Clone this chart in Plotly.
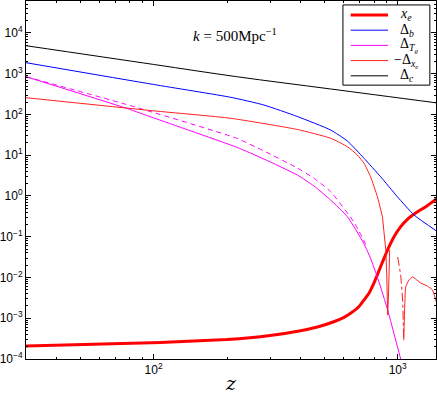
import plotly.graph_objects as go

# x_e (ionisation fraction)
z_xe = [30, 107, 200, 300, 400, 469, 547, 603, 641, 693, 728, 763, 787, 820, 851,
        885, 922, 966, 1029, 1096, 1181, 1321, 1455]
xe = [2.08e-4, 2.55e-4, 3.0e-4, 3.77e-4, 4.95e-4, 6.1e-4, 8.2e-4, 1.05e-3, 1.32e-3,
      1.92e-3, 2.8e-3, 4.09e-3, 5.94e-3, 0.0105, 0.0184, 0.0325, 0.057, 0.100,
      0.177, 0.268, 0.377, 0.58, 0.88]

# baryons
z_b = [30, 100, 207, 283, 388, 531, 622, 728, 851, 997, 1167, 1455]
delta_b = [1866, 545, 264, 171, 89.3, 41.7, 22.4, 8.4, 2.98, 0.96, 0.342, 0.133]

# gas temperature, solid and dashed
z_tg = [30, 77.4, 100, 219, 283, 388, 454, 531, 622, 725, 774, 833, 910, 981, 1029]
delta_tg = [847, 142, 82.6, 15.7, 8.1, 3.27, 1.76, 0.798, 0.31, 0.0703, 0.0296,
            0.0087, 0.00159, 0.000292, 0.0001]
z_tg_dash = [30, 77.4, 219, 283, 388, 454, 531, 660, 740]
delta_tg_dash = [847, 176, 26.1, 12.7, 4.86, 2.72, 1.28, 0.234, 0.065]

# -Delta_xe, split where the sign flips
z_dxe_a = [30, 100, 207, 388, 531, 622, 684, 728, 774, 826, 866]
dxe_a = [258, 123, 80.7, 42.9, 26.1, 16.2, 10.1, 6.34, 2.98, 0.96, 0.31]
z_dxe_cusp = [866, 885, 894, 902, 910, 918, 927]
dxe_cusp = [0.31, 0.083, 0.047, 0.0115, 0.0012, 0.0049, 0.047]
z_dxe_b = [1000, 1029, 1048, 1059]
dxe_b = [0.0318, 0.0115, 0.0028, 0.00029]
z_dxe_c = [1059, 1069, 1079, 1112, 1151, 1242, 1323, 1388, 1445]
dxe_c = [0.00029, 0.00211, 0.00585, 0.0087, 0.0103, 0.00733, 0.00618, 0.00493, 0.00237]

# cold dark matter
z_c = [30, 100, 219, 531, 1460]
delta_c = [4880, 1690, 847, 423, 191]

y_ticks = [1e-4, 1e-3, 1e-2, 1e-1, 1, 10, 100, 1e3, 1e4]
y_text = ["10<sup>−4</sup>", "10<sup>−3</sup>", "10<sup>−2</sup>", "10<sup>−1</sup>",
          "10<sup>0</sup>", "10<sup>1</sup>", "10<sup>2</sup>", "10<sup>3</sup>",
          "10<sup>4</sup>"]
x_ticks = [100, 1000]
x_text = ["10<sup>2</sup>", "10<sup>3</sup>"]

legend_labels = ["<i>x<sub>e</sub></i>", "Δ<sub><i>b</i></sub>",
                 "Δ<sub><i>T<sub>g</sub></i></sub>", "−Δ<sub><i>x<sub>e</sub></i></sub>",
                 "Δ<sub><i>c</i></sub>"]
legend_colors = ["#ff0000", "#0000ff", "#ff00ff", "#ff2020", "#000000"]
legend_widths = [3, 1, 1, 1, 1]

fig = go.Figure()
fig.add_trace(go.Scatter(x=z_xe, y=xe, mode="lines", line_shape="spline",
                         line=dict(color=legend_colors[0], width=3, smoothing=0.4)))
fig.add_trace(go.Scatter(x=z_b, y=delta_b, mode="lines", line_shape="spline",
                         line=dict(color=legend_colors[1], width=1, smoothing=0.5)))
fig.add_trace(go.Scatter(x=z_tg, y=delta_tg, mode="lines", line_shape="spline",
                         line=dict(color=legend_colors[2], width=1, smoothing=0.5)))
fig.add_trace(go.Scatter(x=z_tg_dash, y=delta_tg_dash, mode="lines", line_shape="spline",
                         line=dict(color="#ff00ff", width=1, dash="5px,4px", smoothing=0.5)))
fig.add_trace(go.Scatter(x=z_dxe_a, y=dxe_a, mode="lines", line_shape="spline",
                         line=dict(color=legend_colors[3], width=1, smoothing=0.5)))
fig.add_trace(go.Scatter(x=z_dxe_cusp, y=dxe_cusp, mode="lines",
                         line=dict(color=legend_colors[3], width=1)))
fig.add_trace(go.Scatter(x=z_dxe_b, y=dxe_b, mode="lines",
                         line=dict(color=legend_colors[3], width=1, dash="dashdot")))
fig.add_trace(go.Scatter(x=z_dxe_c, y=dxe_c, mode="lines", line_shape="spline",
                         line=dict(color=legend_colors[3], width=1, smoothing=0.4)))
fig.add_trace(go.Scatter(x=z_c, y=delta_c, mode="lines", line_shape="spline",
                         line=dict(color=legend_colors[4], width=1)))

axis_common = dict(type="log", showline=True, linecolor="black", linewidth=1,
                   mirror="allticks", ticks="inside", ticklen=5, tickcolor="black",
                   showgrid=False, zeroline=False, automargin=False,
                   tickfont=dict(family="Liberation Sans, Arial", size=12, color="black"),
                   minor=dict(ticks="inside", ticklen=2, tickcolor="black", dtick="D1",
                              showgrid=False))

fig.update_xaxes(**axis_common, range=[1.4771, 3.157], tickmode="array",
                 tickvals=x_ticks, ticktext=x_text,
                 title=dict(text="<i>z</i>", standoff=0,
                            font=dict(family="DejaVu Serif", size=19, color="black")))
fig.update_yaxes(**axis_common, range=[-4, 4.785], tickmode="array",
                 tickvals=y_ticks, ticktext=y_text)

fig.add_annotation(x=0.51, y=0.905, xref="paper", yref="paper", showarrow=False,
                   xanchor="center", yanchor="middle",
                   text="<i>k</i> = 500Mpc<sup>−1</sup>",
                   font=dict(family="Liberation Serif", size=15, color="black"))

# legend box drawn in paper coordinates
fig.add_shape(type="rect", xref="paper", yref="paper", x0=0.773, x1=0.985,
              y0=0.765, y1=0.989, line=dict(color="black", width=1),
              fillcolor="white", layer="above")
for i, (lab, col, w) in enumerate(zip(legend_labels, legend_colors, legend_widths)):
    yy = 0.961 - i * 0.0425
    fig.add_shape(type="line", xref="paper", yref="paper", x0=0.792, x1=0.883,
                  y0=yy, y1=yy, line=dict(color=col, width=w), layer="above")
    fig.add_annotation(x=0.907 if i != 3 else 0.893, y=yy, xref="paper", yref="paper",
                       xanchor="left", yanchor="middle", showarrow=False, text=lab,
                       font=dict(family="Liberation Serif", size=14, color="black"))

fig.update_layout(
    width=437, height=394,
    margin=dict(l=26, r=1, t=1, b=35),
    plot_bgcolor="white", paper_bgcolor="white",
    showlegend=False,
)

fig.write_html("out.html", config={"displayModeBar": False},
               post_script="document.body.style.margin='0';")
